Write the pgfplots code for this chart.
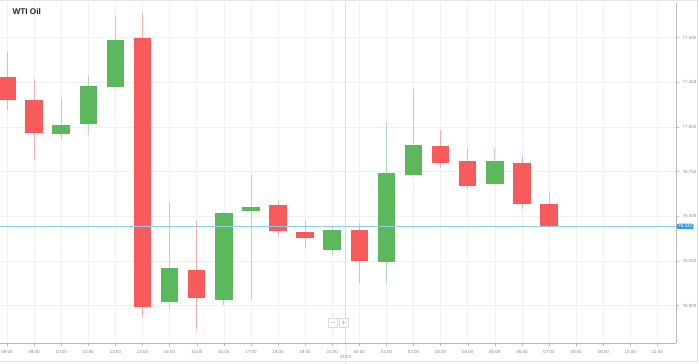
\documentclass[border=0pt]{standalone}
\usepackage{pgfplots}
\pgfplotsset{compat=1.18}
\usepackage{pgfplotstable}
\usepackage{fontspec}
\setmainfont{Liberation Sans}
\definecolor{cred}{HTML}{F75B5B}
\definecolor{cgreen}{HTML}{5CB85C}
\definecolor{wred}{HTML}{F9AFAF}
\definecolor{wgreen}{HTML}{AFDBAF}
\definecolor{gridc}{HTML}{F0F0F0}
\definecolor{tickc}{HTML}{8A8A8A}
\definecolor{pblue}{HTML}{8CCBF2}
\definecolor{lblue}{HTML}{2D9BEF}

\pgfplotstableread{
x o h l c
0 77.278 77.418 77.093 77.149
1 77.149 77.267 76.819 76.968
5 77.496 77.636 75.936 75.992
7 76.199 76.473 75.869 76.042
10 76.562 76.590 76.383 76.417
11 76.411 76.473 76.322 76.378
13 76.422 76.461 76.126 76.249
16 76.892 76.982 76.769 76.797
17 76.808 76.881 76.652 76.668
19 76.797 76.836 76.540 76.568
20 76.568 76.635 76.439 76.443
}\redcandles

\pgfplotstableread{
x o h l c
2 76.959 77.161 76.931 77.010
3 77.015 77.284 76.954 77.228
4 77.222 77.619 77.222 77.485
6 76.020 76.579 75.980 76.210
8 76.031 76.523 76.003 76.517
9 76.529 76.730 76.036 76.556
12 76.310 76.439 76.282 76.422
14 76.243 77.026 76.126 76.741
15 76.730 77.211 76.730 76.898
18 76.680 76.881 76.674 76.808
}\greencandles

\pgfplotsset{candle/.style={only marks, mark=*, mark size=0pt, mark options={draw=none, fill=none},
  error bars/.cd, y dir=both, y explicit, error mark=none}}

\begin{document}
\begin{tikzpicture}[x=1bp,y=1bp]
\begin{axis}[
  scale only axis,
  width=676bp, height=340bp,
  xmin=-0.258, xmax=24.686, ymin=75.790, ymax=77.692,
  clip=false,
  axis x line*=bottom, axis y line*=right,
  axis line style={draw=gray!55, line width=0.6bp},
  xtick={0,...,24},
  xticklabels={08:00,09:00,10:00,11:00,12:00,13:00,14:00,15:00,16:00,17:00,18:00,19:00,23:00,00:00,01:00,02:00,03:00,04:00,05:00,06:00,07:00,08:00,09:00,10:00,11:00},
  ytick={76,76.25,76.5,76.75,77,77.25,77.5},
  yticklabel={\pgfmathprintnumber[fixed,fixed zerofill,precision=3]{\tick}},
  /pgf/number format/assume math mode=true,
  tick align=outside, major tick length=2.5bp,
  tick style={draw=gray!55, line width=0.4bp},
  grid=major, grid style={gridc, line width=0.6bp},
  ticklabel style={font=\fontsize{4.5}{5}\selectfont, text=tickc},
  xticklabel style={yshift=-1bp},
  yticklabel style={xshift=0.5bp},
]
\coordinate (O) at (rel axis cs:0,0);
% vertical day separator
\draw[gray!28, line width=0.6bp] (axis cs:12.5,75.790) -- (axis cs:12.5,77.692);
\draw[gray!70, line width=0.5bp, dash pattern=on 1bp off 1bp] (axis cs:12.5,75.790) -- ++(0,-10bp);
\node[font=\fontsize{4.5}{5}\selectfont, text=tickc] at ([yshift=-14bp]axis cs:12.5,75.790) {21/01};
% wicks
\addplot[candle, error bar style={wred, line width=0.8bp}]
  table[x=x, y expr={(\thisrow{h}+\thisrow{l})/2}, y error expr={(\thisrow{h}-\thisrow{l})/2}] {\redcandles};
\addplot[candle, error bar style={wgreen, line width=0.8bp}]
  table[x=x, y expr={(\thisrow{h}+\thisrow{l})/2}, y error expr={(\thisrow{h}-\thisrow{l})/2}] {\greencandles};
% bodies
\addplot[candle, error bar style={cred, line width=17.5bp}]
  table[x=x, y expr={(\thisrow{o}+\thisrow{c})/2}, y error expr={abs(\thisrow{o}-\thisrow{c})/2}] {\redcandles};
\addplot[candle, error bar style={cgreen, line width=17.5bp}]
  table[x=x, y expr={(\thisrow{o}+\thisrow{c})/2}, y error expr={abs(\thisrow{o}-\thisrow{c})/2}] {\greencandles};
% last price line
\draw[pblue, line width=0.9bp] (axis cs:-0.258,76.443) -- (axis cs:24.686,76.443);
\node[fill=lblue, text=white, rounded corners=1bp, inner sep=1.2bp, anchor=west,
  font=\fontsize{4.5}{5}\selectfont] at ([xshift=1bp]axis cs:24.686,76.443) {76.443};
\end{axis}
\pgfresetboundingbox
\useasboundingbox ([shift={(0,-20)}]O) rectangle ([shift={(699,343)}]O);
\draw[gray!22, line width=0.6bp] ([shift={(0,342.5)}]O) -- ([shift={(697.5,342.5)}]O) -- ([shift={(697.5,-18)}]O) -- ([shift={(0,-18)}]O);
\node[anchor=west, font=\bfseries\fontsize{8.3}{9}\selectfont, text=black!85] at ([shift={(9,331)}]O) {WTI Oil};
\node[draw=gray!30, fill=white, minimum width=9bp, minimum height=9bp, inner sep=0pt,
  font=\fontsize{6}{6}\selectfont, text=gray!80!black] at ([shift={(333,20)}]O) {$-$};
\node[draw=gray!30, fill=white, minimum width=9bp, minimum height=9bp, inner sep=0pt,
  font=\fontsize{6}{6}\selectfont, text=gray!80!black] at ([shift={(344,20)}]O) {$+$};
\end{tikzpicture}
\end{document}
